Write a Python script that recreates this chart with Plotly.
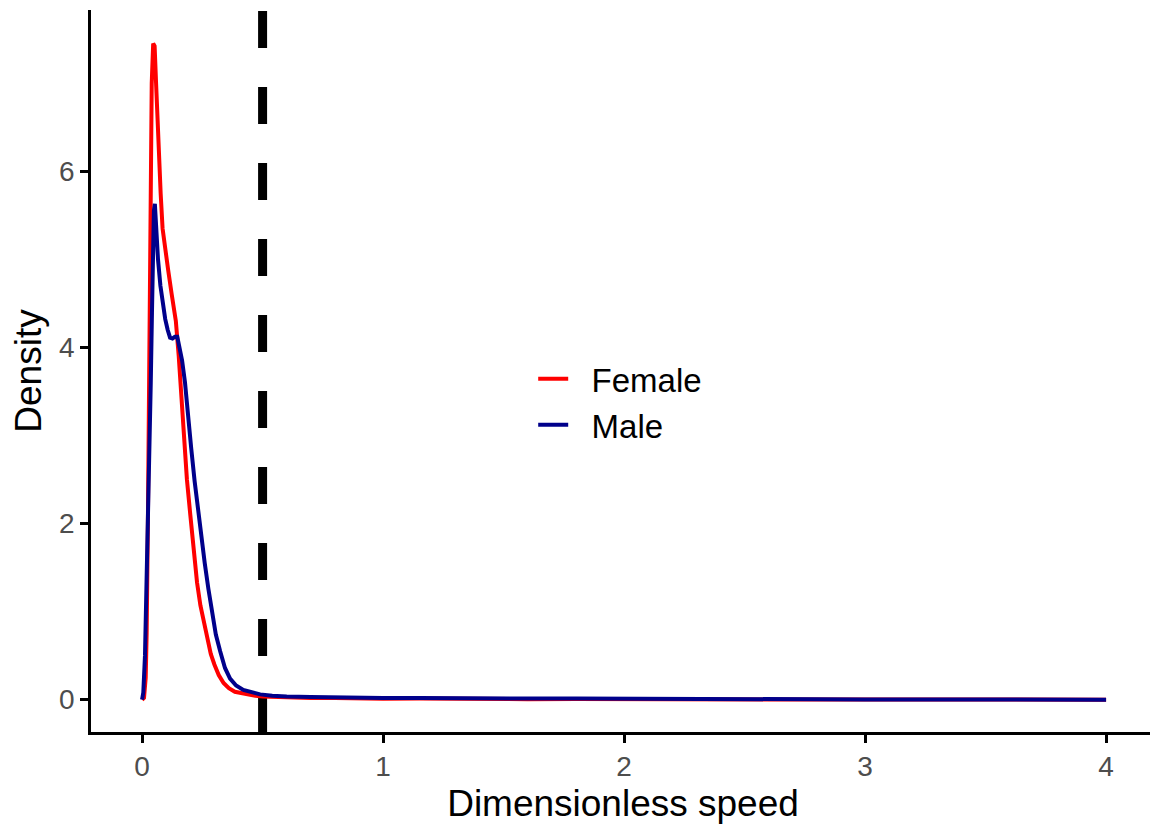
import plotly.graph_objects as go

# ---- data ----
female_x = [0.0, 0.008, 0.015, 0.019, 0.024, 0.030, 0.035, 0.040, 0.046, 0.052,
            0.058, 0.063, 0.070, 0.077, 0.085, 0.095, 0.108, 0.123, 0.140, 0.152,
            0.162, 0.172, 0.186, 0.200, 0.214, 0.228, 0.242, 0.256, 0.270, 0.285,
            0.300, 0.318, 0.338, 0.360, 0.385, 0.410, 0.440, 0.470, 0.500, 0.550,
            0.600, 0.700, 0.800, 0.900, 1.000, 1.150, 1.300, 1.450, 1.600, 1.800,
            2.000, 2.200, 2.400, 2.600, 2.800, 3.000, 3.300, 3.600, 4.000]
female_y = [0.0, 0.02, 0.25, 0.76, 2.0, 4.0, 5.8, 7.0, 7.45, 7.42,
            7.0, 6.6, 6.15, 5.75, 5.35, 5.12, 4.88, 4.6, 4.3, 3.9,
            3.5, 2.95, 2.5, 2.1, 1.72, 1.33, 1.07, 0.88, 0.70, 0.52,
            0.40, 0.28, 0.19, 0.13, 0.09, 0.075, 0.06, 0.045, 0.035, 0.03,
            0.025, 0.02, 0.018, 0.012, 0.01, 0.012, 0.008, 0.01, 0.006, 0.008,
            0.005, 0.006, 0.004, 0.003, 0.002, 0.002, 0.001, 0.001, 0.0]

male_x = [0.0, 0.005, 0.012, 0.018, 0.024, 0.030, 0.036, 0.041, 0.045, 0.049,
          0.053, 0.058, 0.066, 0.076, 0.086, 0.096, 0.106, 0.116, 0.126, 0.136,
          0.146, 0.156, 0.166, 0.178, 0.190, 0.204, 0.218, 0.232, 0.246, 0.260,
          0.275, 0.290, 0.306, 0.324, 0.344, 0.365, 0.390, 0.420, 0.455, 0.490,
          0.540, 0.600, 0.700, 0.800, 0.900, 1.000, 1.150, 1.300, 1.450, 1.600,
          1.800, 2.000, 2.200, 2.400, 2.600, 2.800, 3.000, 3.300, 3.600, 4.000]
male_y = [0.0, 0.08, 0.5, 1.2, 2.0, 2.8, 3.6, 4.4, 5.1, 5.55,
          5.63, 5.38, 5.0, 4.7, 4.48, 4.32, 4.2, 4.11, 4.1, 4.12,
          4.12, 4.0, 3.85, 3.6, 3.22, 2.85, 2.48, 2.15, 1.85, 1.55,
          1.26, 0.98, 0.74, 0.55, 0.36, 0.24, 0.16, 0.11, 0.08, 0.06,
          0.045, 0.035, 0.03, 0.025, 0.02, 0.018, 0.02, 0.015, 0.017, 0.012,
          0.014, 0.01, 0.011, 0.008, 0.006, 0.004, 0.003, 0.002, 0.001, 0.0]

threshold = 0.5
x_ticks = [0, 1, 2, 3, 4]
y_ticks = [0, 2, 4, 6]
series_names = ["Female", "Male"]

FONT = "Liberation Sans, Arial, sans-serif"
GAP = "\u00a0\u00a0"  # visual gap between legend key and label

fig = go.Figure()
fig.add_trace(go.Scatter(x=female_x, y=female_y, mode="lines", name=GAP + series_names[0],
                         line=dict(color="#FF0000", width=4)))
fig.add_trace(go.Scatter(x=male_x, y=male_y, mode="lines", name=GAP + series_names[1],
                         line=dict(color="#00008B", width=4)))

fig.add_shape(type="line", xref="x", yref="paper", x0=threshold, x1=threshold,
              y0=0, y1=1, layer="below",
              line=dict(color="black", width=9, dash="37px,39px"))

axis_common = dict(showline=True, linecolor="black", linewidth=2.5,
                   ticks="outside", ticklen=8, tickwidth=2.5, tickcolor="black",
                   showgrid=False, zeroline=False, mirror=False, automargin=False,
                   tickfont=dict(family=FONT, size=28, color="#4D4D4D"))

# the page body adds an 8px offset, so the figure is drawn 8px smaller
fig.update_layout(
    width=1150, height=817,
    margin=dict(l=83, r=3, t=2, b=93, autoexpand=False),
    paper_bgcolor="white", plot_bgcolor="white",
    font=dict(family=FONT, color="black"),
    xaxis=dict(range=[-0.212, 4.203], tickvals=x_ticks,
               title=dict(text="Dimensionless speed", font=dict(family=FONT, size=37, color="black"),
                          standoff=9),
               **axis_common),
    yaxis=dict(range=[-0.367, 7.83], tickvals=y_ticks,
               title=dict(text="Density", font=dict(family=FONT, size=37, color="black"),
                          standoff=7),
               **axis_common),
    legend=dict(x=0.4156, y=0.528, xanchor="left", yanchor="top",
                bgcolor="rgba(0,0,0,0)", font=dict(family=FONT, size=33, color="black"),
                itemwidth=30, tracegroupgap=0),
    showlegend=True,
)

fig.write_html("out.html")
